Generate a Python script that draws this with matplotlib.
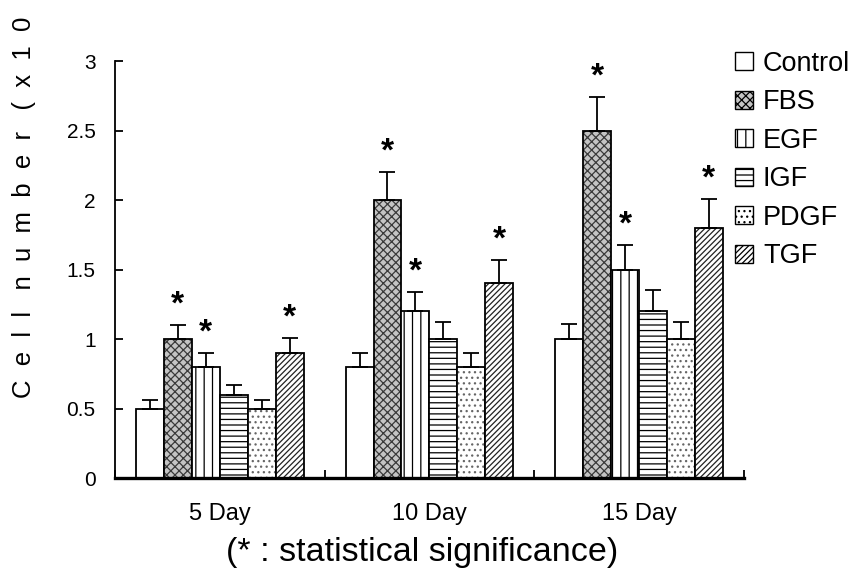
import matplotlib
matplotlib.use("Agg")
import matplotlib.pyplot as plt
import matplotlib.patches as mpatches
import numpy as np

plt.rcParams['font.family'] = ['Liberation Sans', 'DejaVu Sans']
plt.rcParams['hatch.linewidth'] = 0.9

groups = ["5 Day", "10 Day", "15 Day"]
series = ["Control", "FBS", "EGF", "IGF", "PDGF", "TGF"]
control = [0.5, 0.8, 1.0]
fbs = [1.0, 2.0, 2.5]
egf = [0.8, 1.2, 1.5]
igf = [0.6, 1.0, 1.2]
pdgf = [0.5, 0.8, 1.0]
tgf = [0.9, 1.4, 1.8]
err_control = [0.06, 0.10, 0.11]
err_fbs = [0.10, 0.20, 0.24]
err_egf = [0.10, 0.14, 0.18]
err_igf = [0.07, 0.12, 0.15]
err_pdgf = [0.06, 0.10, 0.12]
err_tgf = [0.11, 0.17, 0.21]
significant = ["FBS", "EGF", "TGF"]
yticks = [0, 0.5, 1, 1.5, 2, 2.5, 3]
yticklabels = ["0", "0.5", "1", "1.5", "2", "2.5", "3"]

values = [control, fbs, egf, igf, pdgf, tgf]
errors = [err_control, err_fbs, err_egf, err_igf, err_pdgf, err_tgf]
hatches = [None, 'xxxx', '||', '---', '...', '//////']
hatch_colors = ['black', '#3a3a3a', 'black', 'black', '#666666', '#222222']
face_colors = ['white', '#c4c4c4', 'white', 'white', 'white', 'white']

fig = plt.figure(figsize=(8.52, 5.79), dpi=100)
ax = fig.add_axes([0.135, 0.1744, 0.738, 0.7202])

x = np.arange(len(groups))
n = len(series)
bw = 0.8 / n
for i, (name, v, e, h, hc, fc) in enumerate(zip(series, values, errors, hatches,
                                                hatch_colors, face_colors)):
    pos = x - 0.4 + bw * (i + 0.5)
    if h is not None:
        ax.bar(pos, v, width=bw, facecolor=fc, edgecolor=hc, hatch=h, linewidth=0)
    ax.bar(pos, v, width=bw, facecolor='none', edgecolor='black', linewidth=1.3)
    ax.errorbar(pos, v, yerr=[np.zeros(len(e)), e], fmt='none', ecolor='black',
                elinewidth=1.3, capsize=6, capthick=1.3)
    if name in significant:
        for p, vv, ee in zip(pos, v, e):
            ax.text(p, vv + ee + 0.03, "*", ha='center', va='bottom',
                    fontsize=24, fontweight='bold')

ax.set_xlim(-0.5, len(groups) - 0.5)
ax.set_ylim(0, 3)
ax.set_yticks(yticks)
ax.set_yticklabels(yticklabels, fontsize=15)
ax.set_xticks(x)
ax.set_xticklabels(groups, fontsize=17)
ax.set_xticks(np.arange(len(groups) + 1) - 0.5, minor=True)
ax.tick_params(axis='x', which='major', length=0, pad=18)
ax.tick_params(axis='x', which='minor', direction='in', length=6, width=1.3)
ax.tick_params(axis='y', direction='in', length=6, width=1.3, pad=14)
for s in ['top', 'right']:
    ax.spines[s].set_visible(False)
ax.spines['left'].set_linewidth(1.3)
ax.spines['bottom'].set_linewidth(2.4)

fig.text(0.028, (579 - 398) / 579, "C  e  l  l   n  u  m  b  e  r   (  x  1  0",
         rotation=90, ha='center', va='bottom', fontsize=18.5)
fig.text(0.495, (579 - 552) / 579, "(* : statistical significance)", ha='center',
         va='center', fontsize=24.5)

handles = []
for name, h, hc, fc in zip(series, hatches, hatch_colors, face_colors):
    handles.append(mpatches.Patch(facecolor=fc, edgecolor='black', hatch=h,
                                  linewidth=1.0, label=name))
fig.legend(handles=handles, loc='upper left', bbox_to_anchor=(0.8627, 0.912),
           frameon=False, fontsize=19.5, handlelength=0.65, handleheight=0.65,
           handletextpad=0.38, labelspacing=0.46, borderaxespad=0, borderpad=0)

fig.savefig("out.png", dpi=100)
